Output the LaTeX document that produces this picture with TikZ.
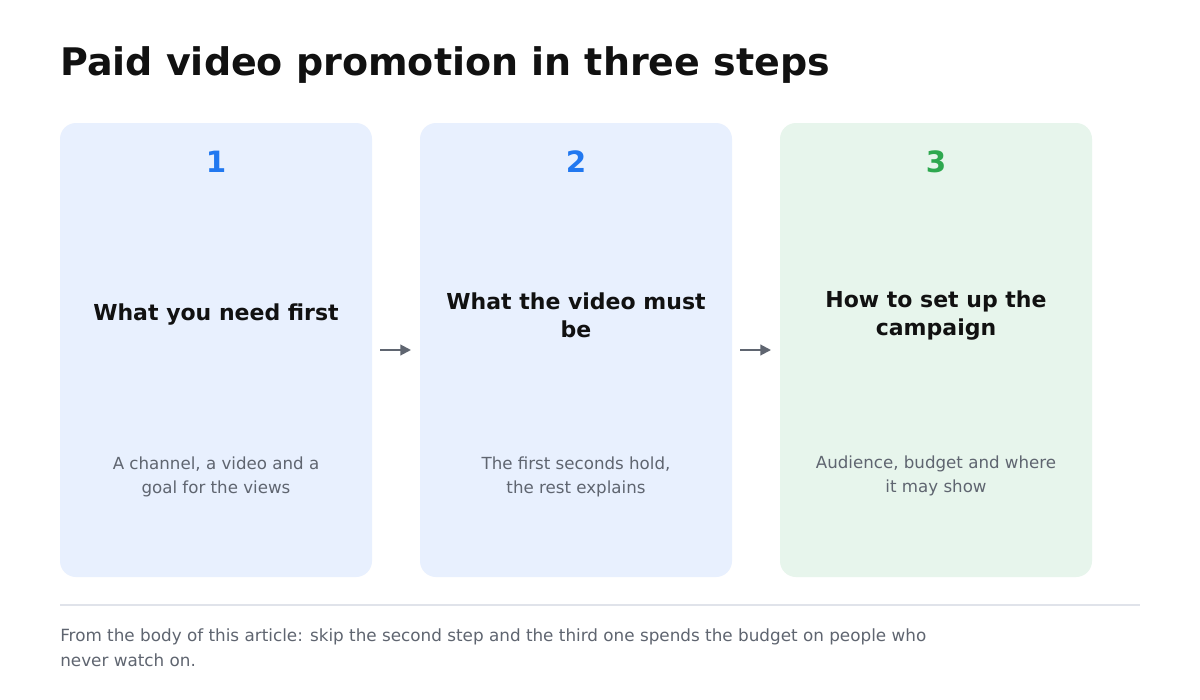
\documentclass[tikz,border=0pt]{standalone}
\usepackage{fontspec}
\setmainfont{DejaVu Sans}
\usetikzlibrary{arrows.meta}
\definecolor{cardblue}{HTML}{E8F0FE}
\definecolor{cardgreen}{HTML}{E7F5EC}
\definecolor{numblue}{HTML}{2178F0}
\definecolor{numgreen}{HTML}{2EA84F}
\definecolor{ink}{HTML}{111111}
\definecolor{muted}{HTML}{5F6570}
\definecolor{rule}{HTML}{E0E3EA}

\tikzset{
  card/.style={rounded corners=12pt, draw=none},
  num/.style={font=\fontsize{22}{26}\selectfont\bfseries},
  head/.style={font=\fontsize{16.5}{21}\selectfont\bfseries, text=ink, align=center},
  body/.style={font=\fontsize{12.5}{17.5}\selectfont, text=muted, align=center},
  nextstep/.style={-{Triangle[length=8pt,width=8pt]}, draw=muted, line width=1.5pt}
}

\begin{document}
\begin{tikzpicture}[x=0.75pt,y=-0.75pt]
  \useasboundingbox[fill=white] (0,0) rectangle (1200,700);
  \node[anchor=west, inner sep=0pt, font=\fontsize{28.5}{32}\selectfont\bfseries, text=ink] (title) at (60,65) {Paid video promotion in three steps};

  % cards
  \fill[card, cardblue] (60,123) rectangle (372,577);
  \fill[card, cardblue] (420,123) rectangle (732,577);
  \fill[card, cardgreen] (780,123) rectangle (1092,577);

  \node[num, text=numblue] (n1) at (216,162) {1};
  \node[num, text=numblue] (n2) at (576,162) {2};
  \node[num, text=numgreen] (n3) at (936,162) {3};

  \node[head] (h1) at (216,315) {What you need first};
  \node[head] (h2) at (576,315) {What the video must\\be};
  \node[head] (h3) at (936,316) {How to set up the\\campaign};

  \node[body] (b1) at (216,477) {A channel, a video and a\\goal for the views};
  \node[body] (b2) at (576,477) {The first seconds hold,\\the rest explains};
  \node[body] (b3) at (936,476) {Audience, budget and where\\it may show};

  \coordinate (a1) at (380,350); \coordinate (a2) at (411,350);
  \coordinate (a3) at (740,350); \coordinate (a4) at (771,350);
  \draw[nextstep] (a1) -- (a2);
  \draw[nextstep] (a3) -- (a4);

  % footer
  \coordinate (r1) at (60,605); \coordinate (r2) at (1140,605);
  \draw[rule, line width=1pt] (r1) -- (r2);
  \node[anchor=north west, inner sep=0pt, font=\fontsize{12.6}{19}\selectfont, text=muted, align=left] (foot) at (60,628)
    {From the body of this article: skip the second step and the third one spends the budget on people who\\never watch on.};
\end{tikzpicture}
\end{document}
